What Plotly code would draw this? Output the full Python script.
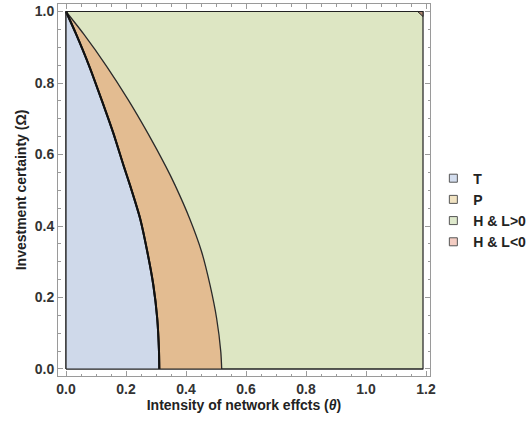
import plotly.graph_objects as go

# Region boundaries in the (theta, Omega) plane
omega_pts = [1.0, 0.938, 0.846, 0.752, 0.659, 0.566, 0.515, 0.421, 0.328, 0.235, 0.142, 0.048, 0.0]
theta_T = [0.0, 0.033, 0.078, 0.119, 0.158, 0.193, 0.213, 0.247, 0.271, 0.291, 0.304, 0.310, 0.311]
theta_PH = [0.0, 0.058, 0.136, 0.208, 0.273, 0.333, 0.363, 0.412, 0.452, 0.480, 0.502, 0.516, 0.519]

theta_max = 1.19
omega_max = 1.0
# small corner region where L < 0
corner_theta = [1.172, 1.19, 1.19]
corner_omega = [1.0, 1.0, 0.986]

legend_names = ["T", "P", "H & L>0", "H & L<0"]
legend_colors = ["#D3DDEE", "#F1E3C2", "#DEE9CC", "#F4CDC3"]

fill_T = "#CFD9EA"
fill_P = "#E3BC91"
fill_H = "#DDE6C3"
fill_neg = "#B08870"

spline = dict(shape="spline", smoothing=0.6)

fig = go.Figure()

# H & L>0 background rectangle
fig.add_trace(go.Scatter(
    x=[0, theta_max, theta_max, 0, 0], y=[0, 0, omega_max, omega_max, 0],
    mode="lines", fill="toself", fillcolor=fill_H,
    line=dict(color="#222", width=1.2), showlegend=False, hoverinfo="skip"))

# corner region
fig.add_trace(go.Scatter(
    x=corner_theta + corner_theta[:1], y=corner_omega + corner_omega[:1],
    mode="lines", fill="toself", fillcolor=fill_neg,
    line=dict(color="#222", width=1), showlegend=False, hoverinfo="skip"))

# T region: filled from the T boundary to theta = 0
fig.add_trace(go.Scatter(x=theta_T, y=omega_pts, mode="lines",
                         fill="tozerox", fillcolor=fill_T,
                         line=dict(color="#111", width=2, **spline),
                         showlegend=False, hoverinfo="skip"))
# P region: filled between the T boundary and the P/H boundary
fig.add_trace(go.Scatter(x=theta_PH, y=omega_pts, mode="lines",
                         fill="tonextx", fillcolor=fill_P,
                         line=dict(color="#2a2a2a", width=1.3, **spline),
                         showlegend=False, hoverinfo="skip"))
# T boundary redrawn above the P fill
fig.add_trace(go.Scatter(x=theta_T, y=omega_pts, mode="lines",
                         line=dict(color="#111", width=2, **spline),
                         showlegend=False, hoverinfo="skip"))

# left and bottom edges of the rectangle redrawn on top
fig.add_trace(go.Scatter(x=[0, theta_max], y=[0, 0], mode="lines",
                         line=dict(color="#222", width=1.2),
                         showlegend=False, hoverinfo="skip"))
fig.add_trace(go.Scatter(x=[0, 0], y=[0, omega_max], mode="lines",
                         line=dict(color="#222", width=1.2),
                         showlegend=False, hoverinfo="skip"))

# legend entries
for name, col in zip(legend_names, legend_colors):
    fig.add_trace(go.Scatter(
        x=[None], y=[None], mode="markers", name=name,
        marker=dict(symbol="square", size=8, color=col,
                    line=dict(color="#555", width=1))))

axis_common = dict(
    showgrid=False, zeroline=False, automargin=False,
    showline=True, linecolor="#9a9a9a", linewidth=1, mirror="allticks",
    ticks="inside", ticklen=5, tickcolor="#9a9a9a", tickwidth=1,
    tick0=0, dtick=0.2, tickformat=".1f",
    minor=dict(ticks="inside", ticklen=2.5, tickcolor="#9a9a9a", dtick=0.05, tick0=0),
    tickfont=dict(family="Liberation Sans", size=14, color="#333", weight="bold"),
)

fig.update_layout(
    width=528, height=426,
    margin=dict(l=58, r=98, t=4, b=50, autoexpand=False),
    paper_bgcolor="white", plot_bgcolor="white",
    xaxis=dict(range=[-0.0267, 1.2133],
               title=dict(text="Intensity of network effcts (<i>θ</i>)", standoff=0,
                          font=dict(family="Liberation Sans", size=14, color="#222", weight="bold")),
               **axis_common),
    yaxis=dict(range=[-0.0196, 1.021],
               title=dict(text="Investment certainty (Ω)", standoff=4,
                          font=dict(family="Liberation Sans", size=14, color="#222", weight="bold")),
               **axis_common),
    legend=dict(x=1.009, xanchor="left", y=0.446, yanchor="middle",
                traceorder="normal",
                font=dict(family="Liberation Sans", size=14, color="#222", weight="bold"),
                bgcolor="rgba(0,0,0,0)", tracegroupgap=0),
)

fig.write_html("out.html")
